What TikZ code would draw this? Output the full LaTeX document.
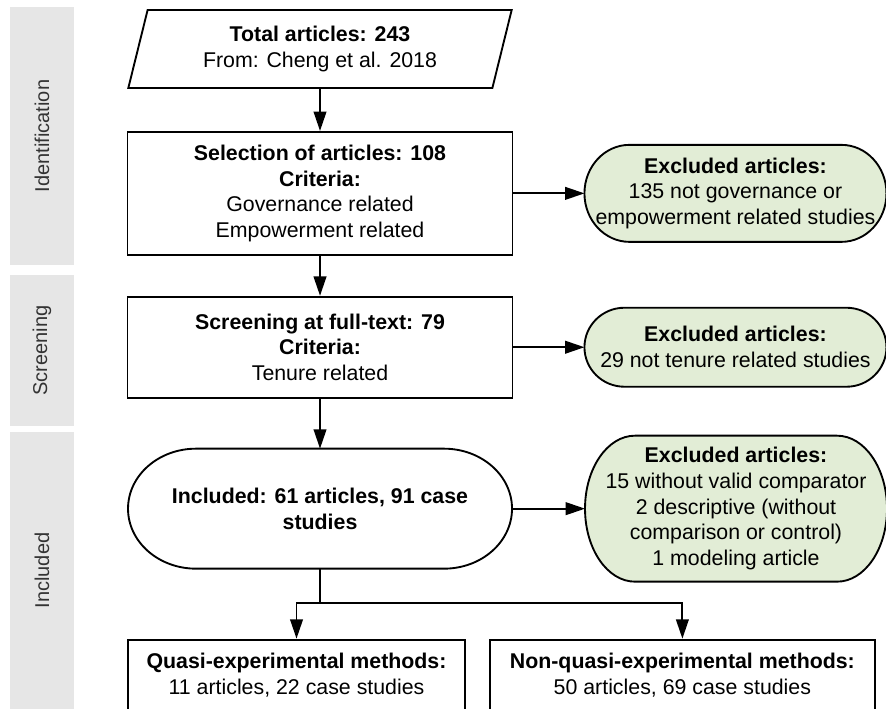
\documentclass[tikz,border=0pt]{standalone}
\usepackage{fontspec}
\setmainfont{Liberation Sans}
\usetikzlibrary{
	arrows.meta,
	positioning,
	calc,
	shapes.geometric,
	backgrounds
}

\definecolor{exgreen}{RGB}{226,237,214}
\definecolor{lanegray}{RGB}{230,230,230}
\definecolor{lanetext}{RGB}{51,51,51}

% outline with elliptic ends round a plain node: node, x radius, fill
\newcommand{\pilloutline}[3]{%
	\draw[line width = 1.4pt, fill = #3]
		let \p1 = (#1.north east), \p2 = (#1.south west), \n1 = {0.5*(\y1-\y2)} in
		(\x2+#2,\y1) -- (\x1-#2,\y1)
		arc[start angle = 90, end angle = -90, x radius = #2, y radius = \n1]
		-- (\x2+#2,\y2)
		arc[start angle = 270, end angle = 90, x radius = #2, y radius = \n1]
		-- cycle;
}

\begin{document}
\begin{tikzpicture}[
		font = \fontsize{16}{19.3}\selectfont,
		box/.style = {
			draw,
			rectangle,
			line width = 1.4pt,
			minimum width = 288.75pt,
			align = center
		},
		pill/.style = {
			rectangle,
			outer sep = 0pt,
			minimum width = 226.5pt,
			align = center
		},
		lane/.style = {
			fill = lanegray,
			rotate = 90,
			minimum height = 48pt,
			text = lanetext,
			font = \fontsize{15}{18}\selectfont
		},
		flow/.style = {
			draw,
			line width = 1.4pt,
			-{Triangle[length = 14.5pt, width = 9.5pt]}
		}
	]

	\useasboundingbox (0,0) rectangle (664.5pt,-531.75pt);

	% lanes
	\node[lane, minimum width = 193.5pt] (laneident) at (31.5pt,-102pt) {Identification};
	\node[lane, minimum width = 113.25pt] (lanescreen) at (31.5pt,-262.875pt) {Screening};
	\node[lane, minimum width = 207.75pt] (laneincl) at (31.5pt,-427.875pt) {Included};

	% main column
	\node[trapezium, trapezium left angle = 76, trapezium right angle = 104,
		trapezium stretches = true, draw, line width = 1.4pt,
		minimum width = 288pt, minimum height = 58.5pt, align = center]
		(total) at (240pt,-36.75pt) {\textbf{Total articles: 243}\\From: Cheng et al. 2018};
	\node[box, minimum height = 92.25pt, below = 31.5pt of total] (select)
		{\textbf{Selection of articles: 108}\\\textbf{Criteria:}\\Governance related\\Empowerment related};
	\node[box, minimum height = 75.75pt, below = 30pt of select] (fulltext)
		{\textbf{Screening at full-text: 79}\\\textbf{Criteria:}\\Tenure related};
	\node[pill, minimum width = 288pt, minimum height = 90pt, below = 37.5pt of fulltext] (included)
		{\textbf{Included: 61 articles, 91 case}\\\textbf{studies}};

	% excluded
	\node[pill, minimum height = 72.75pt, right = 53.25pt of select] (excl1)
		{\textbf{Excluded articles:}\\135 not governance or\\empowerment related studies};
	\node[pill, minimum height = 59.25pt, right = 53.25pt of fulltext] (excl2)
		{\textbf{Excluded articles:}\\29 not tenure related studies};
	\node[pill, minimum height = 109.5pt, right = 54.75pt of included] (excl3)
		{\textbf{Excluded articles:}\\15 without valid comparator\\2 descriptive (without\\comparison or control)\\1 modeling article};

	% methods
	\node[box, minimum width = 252.75pt, minimum height = 53.25pt,
		below = 52.5pt of included, xshift = -17.625pt] (quasi)
		{\textbf{Quasi-experimental methods:}\\11 articles, 22 case studies};
	\node[box, minimum height = 53.25pt, right = 17.25pt of quasi] (nonquasi)
		{\textbf{Non-quasi-experimental methods:}\\50 articles, 69 case studies};

	\begin{scope}[on background layer]
		\pilloutline{included}{51pt}{white}
		\pilloutline{excl1}{33.75pt}{exgreen}
		\pilloutline{excl2}{30pt}{exgreen}
		\pilloutline{excl3}{37.5pt}{exgreen}
	\end{scope}

	\coordinate (split) at ($(included.south)+(0,-25.5pt)$);

	\draw[flow] (total) -- (select);
	\draw[flow] (select) -- (fulltext);
	\draw[flow] (fulltext) -- (included);
	\draw[flow] (select) -- (excl1);
	\draw[flow] (fulltext) -- (excl2);
	\draw[flow] (included) -- (excl3);
	\draw[flow] (included) -- (split) -| (quasi);
	\draw[flow] (split) -| (nonquasi);
\end{tikzpicture}
\end{document}
